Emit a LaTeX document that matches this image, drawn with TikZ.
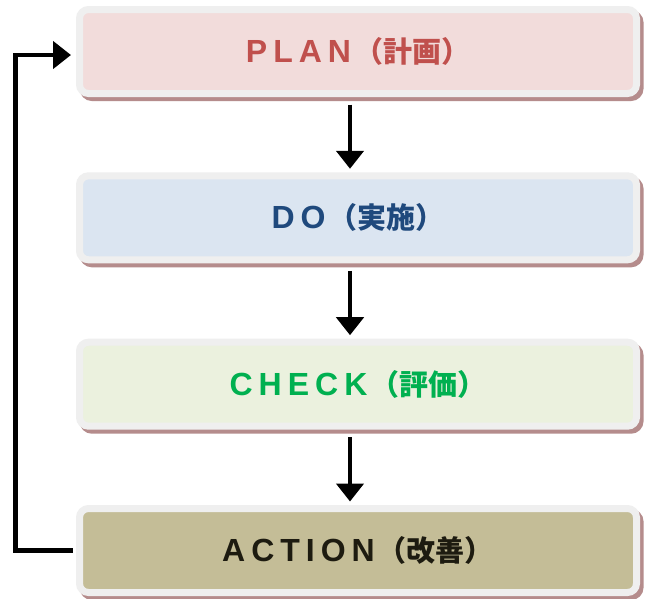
\documentclass[tikz,border=0pt]{standalone}
\usepackage{fontspec}
\setmainfont{Liberation Sans}
\newfontfamily\jpfont{Noto Sans CJK JP}
\usetikzlibrary{arrows.meta}

\definecolor{rimgray}{HTML}{EFEFEF}
\definecolor{shadowc}{HTML}{B58C8C}
\definecolor{planfill}{HTML}{F2DCDB}
\definecolor{plantext}{HTML}{C0504D}
\definecolor{dofill}{HTML}{DBE5F1}
\definecolor{dotext}{HTML}{1F497D}
\definecolor{checkfill}{HTML}{EBF1DE}
\definecolor{checktext}{HTML}{00B050}
\definecolor{actfill}{HTML}{C4BD97}
\definecolor{acttext}{HTML}{1D1B10}

% tracking between the capital letters
\newlength\trk
\setlength\trk{6pt}
\newcommand\tk{\kern\trk}
\newcommand\stagelabel[2]{\raisebox{-3pt}{#1\kern3pt{\jpfont\bfseries\fontsize{29}{32}\selectfont （#2）}}}

\tikzset{
  stagebox/.style={
    rounded corners=9pt, draw=rimgray, line width=7pt,
    minimum width=557pt, minimum height=84pt, inner sep=0pt,
    font=\fontsize{32}{35}\selectfont\bfseries,
    preaction={draw=shadowc, fill=shadowc,
      transform canvas={shift={(3.5pt,-4pt)}}}
  },
  flow/.style={line width=4.5pt, -{Triangle[width=27pt,length=18pt]}},
  loopback/.style={line width=4.5pt, line join=miter,
    -{Triangle[width=27pt,length=18pt]}}
}

\begin{document}
\begin{tikzpicture}[x=1pt,y=-1pt]
  \fill[white] (0,0) rectangle (652,598);
  \useasboundingbox (0,0) rectangle (652,598);

  \node[stagebox, fill=planfill, text=plantext] (plan) at (358,51.5)
    {\stagelabel{P\tk L\tk A\tk N}{計画}};
  \node[stagebox, fill=dofill, text=dotext] (do) at (358,217.8)
    {\stagelabel{D\tk O}{実施}};
  \node[stagebox, fill=checkfill, text=checktext] (check) at (358,384.2)
    {\stagelabel{C\tk H\tk E\tk C\tk K}{評価}};
  \node[stagebox, fill=actfill, text=acttext] (action) at (358,550.5)
    {\stagelabel{A\tk C\tk T\tk I\tk O\tk N}{改善}};

  \draw[flow] ([xshift=-8pt,yshift=-7.5pt]plan.south) -- ([xshift=-8pt,yshift=3.5pt]do.north);
  \draw[flow] ([xshift=-8pt,yshift=-7.5pt]do.south) -- ([xshift=-8pt,yshift=3.5pt]check.north);
  \draw[flow] ([xshift=-8pt,yshift=-7.5pt]check.south) -- ([xshift=-8pt,yshift=3.5pt]action.north);

  \draw[loopback] ([xshift=-3.5pt]action.west) -- ++(-57,0)
    |- ([xshift=-5pt,yshift=-3.5pt]plan.west);
\end{tikzpicture}
\end{document}
